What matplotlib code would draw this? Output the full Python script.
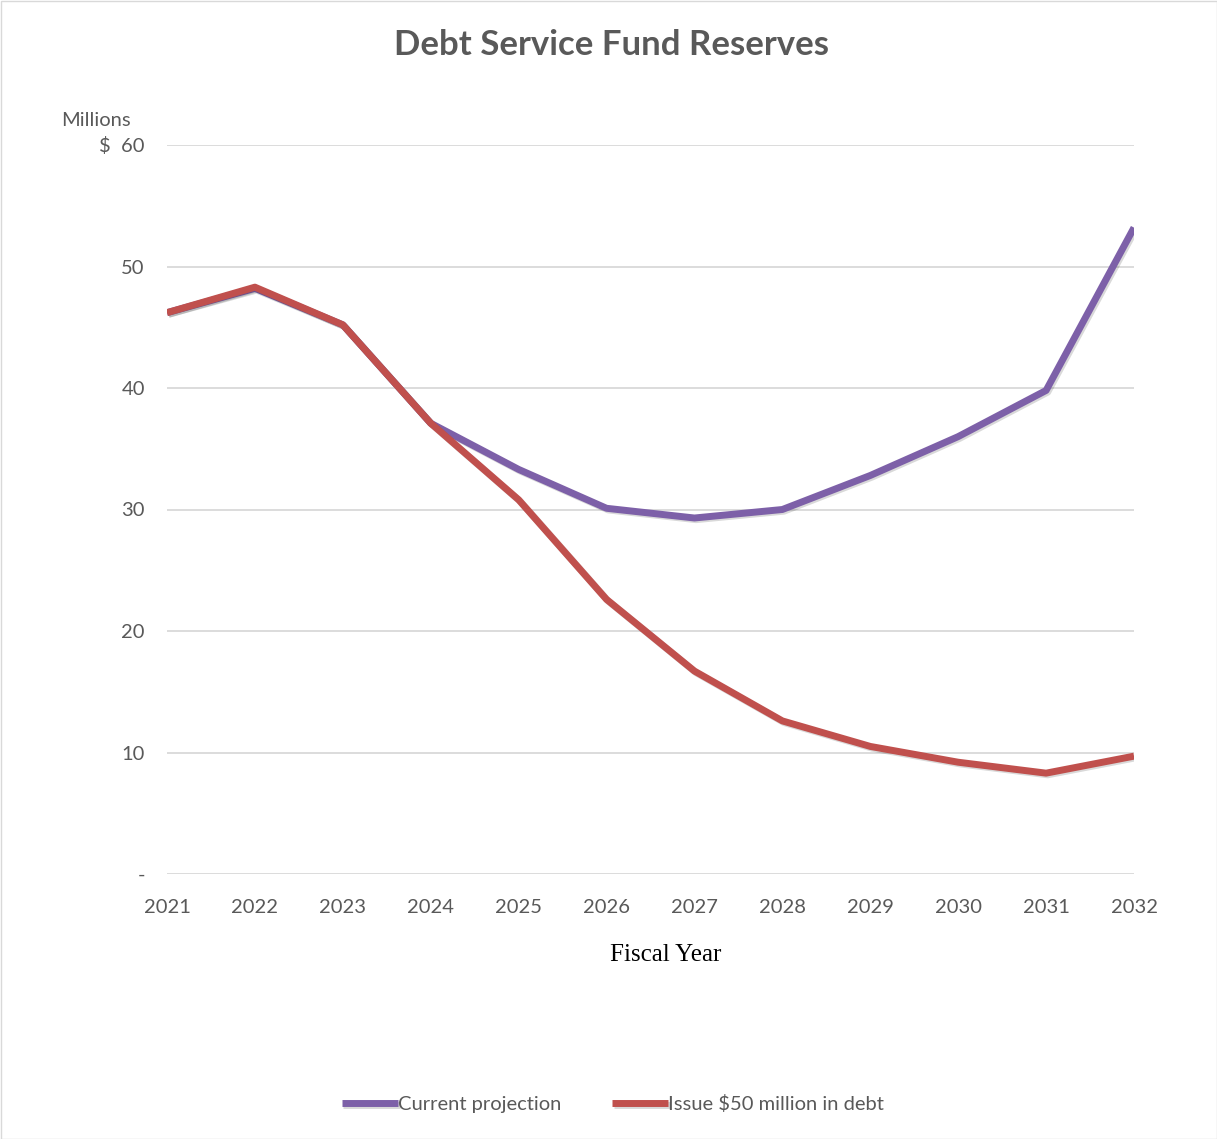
import matplotlib
matplotlib.use("Agg")
import matplotlib.pyplot as plt
import matplotlib.patheffects as pe
from matplotlib.ticker import FixedLocator, FuncFormatter

years = [2021, 2022, 2023, 2024, 2025, 2026, 2027, 2028, 2029, 2030, 2031, 2032]
current_projection = [46.2, 48.2, 45.2, 37.1, 33.3, 30.1, 29.3, 30.0, 32.8, 36.0, 39.8, 53.2]
issue_debt = [46.2, 48.3, 45.2, 37.1, 30.8, 22.6, 16.7, 12.6, 10.5, 9.2, 8.3, 9.7]
y_ticks = [0, 10, 20, 30, 40, 50, 60]

plt.rcParams['font.family'] = ['Lato', 'DejaVu Sans']

fig = plt.figure(figsize=(12.17, 11.39), dpi=100)
W, H = 1217, 1139
left, right, top, bottom = 167, 1134, 145, 874
ax = fig.add_axes([left / W, 1 - bottom / H, (right - left) / W, (bottom - top) / H])

shadow = [pe.SimpleLineShadow(offset=(1.2, -1.2), alpha=0.15), pe.Normal()]
ax.plot(years, current_projection, color='#7d60a8', lw=5, solid_joinstyle='round',
        solid_capstyle='butt', label='Current projection', path_effects=shadow, zorder=3)
ax.plot(years, issue_debt, color='#c0504d', lw=5, solid_joinstyle='round',
        solid_capstyle='butt', label='Issue $50 million in debt', path_effects=shadow, zorder=4)

ax.set_xlim(2021, 2032)
ax.set_ylim(0, 60)
ax.set_xticks(years)
ax.yaxis.set_major_locator(FixedLocator(y_ticks))

def yfmt(v, pos):
    if v == 0:
        return '-'
    if v == 60:
        return '$  60'
    return f'{int(v)}'
ax.yaxis.set_major_formatter(FuncFormatter(yfmt))

ax.grid(axis='y', color='#d9d9d9', lw=1.3)
ax.set_axisbelow(True)
for s in ax.spines.values():
    s.set_visible(False)
ax.tick_params(axis='both', length=0, colors='#595959', labelsize=14.5)
ax.tick_params(axis='x', pad=18)
ax.tick_params(axis='y', pad=16)

fig.text(96 / W, 1 - 121 / H, 'Millions', ha='center', va='center', fontsize=14.5, color='#595959')
fig.text(611 / W, 1 - 45 / H, 'Debt Service Fund Reserves', ha='center', va='center',
         fontsize=25, fontweight='bold', color='#595959')
fig.text(666 / W, 1 - 955 / H, 'Fiscal Year', ha='center', va='center',
         fontsize=18, color='black', family='Liberation Serif')

leg = fig.legend(loc='center', bbox_to_anchor=(613 / W, 1 - 1104 / H), ncol=2, frameon=False,
                 fontsize=14.5, handlelength=2.8, handletextpad=0.0, columnspacing=2.5)
for t in leg.get_texts():
    t.set_color('#595959')

fig.patches.append(plt.Rectangle((0.5 / W, 0.5 / H), 1 - 1 / W, 1 - 1 / H, transform=fig.transFigure,
                                 fill=False, edgecolor='#d9d9d9', lw=1))

fig.savefig('out.png', dpi=100)
